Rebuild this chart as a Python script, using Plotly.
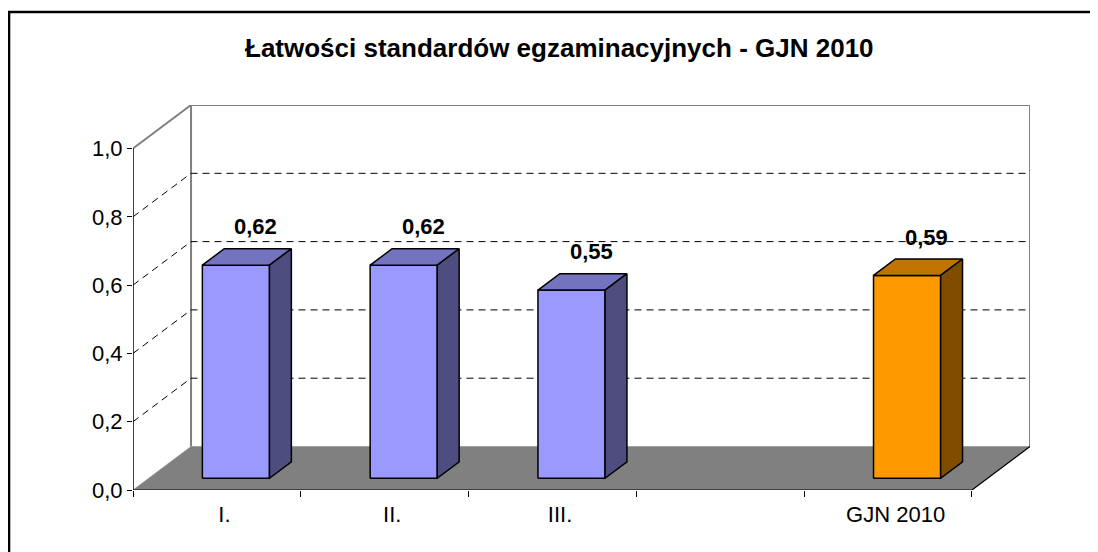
import plotly.graph_objects as go

# ---------------- data ----------------
categories = ["I.", "II.", "III.", "", "GJN 2010"]
values = [0.624, 0.624, 0.551, None, 0.594]
front_colors = ["#9999FF", "#9999FF", "#9999FF", None, "#FF9900"]
top_colors = ["#7373BF", "#7373BF", "#7373BF", None, "#BF7300"]
side_colors = ["#4D4D80", "#4D4D80", "#4D4D80", None, "#804D00"]
y_tick_vals = [0.0, 0.2, 0.4, 0.6, 0.8, 1.0]
y_tick_text = ["0,0", "0,2", "0,4", "0,6", "0,8", "1,0"]
grid_vals = [0.2, 0.4, 0.6, 0.8]
title_text = "Łatwości standardów egzaminacyjnych - GJN 2010"

# ---------------- geometry (oblique 3-D look) ----------------
OFF = 8                     # default page body margin
W, H = 1098 - OFF, 552 - OFF
L, R, T, B = 125, 68, 97, 62
N = len(categories)
DX, DY = 0.3459, 0.1274          # full depth offset in data units
F0, F1 = 0.27, 0.647             # bar depth span (fraction of floor depth)
BAR_C, BAR_W = 0.52, 0.40        # bar centre / width inside a category
FONT = "Liberation Sans, Arial, sans-serif"
GRAY = "#808080"

fig = go.Figure()

def poly(xs, ys, fill=None, color="black", width=1.5, dash=None, close=True):
    if close:
        xs = list(xs) + [xs[0]]
        ys = list(ys) + [ys[0]]
    fig.add_trace(go.Scatter(
        x=xs, y=ys, mode="lines",
        fill="toself" if fill else None,
        fillcolor=fill,
        line=dict(color=color, width=width, dash=dash),
        hoverinfo="skip", showlegend=False))

# back wall outline + left wall top edge
poly([0, DX, N + DX, N + DX], [1, 1 + DY, 1 + DY, DY], color=GRAY, width=2, close=False)
poly([DX, DX], [DY, 1 + DY], color=GRAY, width=2, close=False)

# dashed gridlines on side and back wall
for v in grid_vals:
    poly([0, DX, N + DX], [v, v + DY, v + DY], color="black", width=1,
         dash="7px,5px", close=False)

# floor
poly([0, N, N + DX, DX], [0, 0, DY, DY], fill=GRAY, color=GRAY, width=0.5)
poly([0, N, N + DX], [0, 0, DY], color="black", width=1.2, close=False)

# y axis line
poly([0, 0], [0, 1], color="black", width=1.5, close=False)

# bars
for i, v in enumerate(values):
    if v is None:
        continue
    x0 = i + BAR_C - BAR_W / 2
    x1 = i + BAR_C + BAR_W / 2
    fx, fy = F0 * DX, F0 * DY
    bx, by = F1 * DX, F1 * DY
    # front
    poly([x0 + fx, x1 + fx, x1 + fx, x0 + fx], [fy, fy, v + fy, v + fy],
         fill=front_colors[i])
    # top
    poly([x0 + fx, x1 + fx, x1 + bx, x0 + bx], [v + fy, v + fy, v + by, v + by],
         fill=top_colors[i])
    # side
    poly([x1 + fx, x1 + bx, x1 + bx, x1 + fx], [fy, by, v + by, v + fy],
         fill=side_colors[i])
    # value label
    fig.add_annotation(
        x=i + BAR_C + bx - 0.012, y=v + by, xref="x", yref="y",
        text=f"{v:.2f}".replace(".", ","), showarrow=False,
        yanchor="middle", yshift=22,
        font=dict(family=FONT, size=22, color="black", weight="bold"))

plot_w = W - L - R
plot_h = H - T - B

# title
fig.add_annotation(
    x=(559 - OFF - L) / plot_w, y=(H - B - (48 - OFF)) / plot_h,
    xref="paper", yref="paper",
    text=f"<b>{title_text}</b>", showarrow=False, xanchor="center", yanchor="middle",
    font=dict(family=FONT, size=26, color="black"))

# outer chart border (extends beyond the visible area)
fig.add_shape(type="rect", xref="paper", yref="paper",
              x0=(9 - OFF - L) / plot_w, x1=1.3,
              y0=-0.5, y1=(H - B - (12 - OFF)) / plot_h,
              line=dict(color="black", width=2.6), fillcolor="rgba(0,0,0,0)",
              layer="below")

fig.update_layout(
    width=W, height=H,
    margin=dict(l=L, r=R, t=T, b=B),
    paper_bgcolor="white", plot_bgcolor="white",
    showlegend=False,
    xaxis=dict(
        range=[0, N + DX], showgrid=False, zeroline=False, showline=False,
        tickvals=[i + 0.5 + 0.045 for i in range(N)], ticktext=categories,
        ticks="", ticklabelstandoff=9,
        tickfont=dict(family=FONT, size=22, color="black"),
        minor=dict(tickvals=list(range(N + 1)), ticks="outside", ticklen=6,
                   tickcolor="black", tickwidth=1, showgrid=False),
        fixedrange=True),
    yaxis=dict(
        range=[0, 1 + DY], showgrid=False, zeroline=False, showline=False,
        tickvals=y_tick_vals, ticktext=y_tick_text,
        ticks="outside", ticklen=5, tickcolor="black", tickwidth=1,
        tickfont=dict(family=FONT, size=22, color="black"),
        fixedrange=True),
)

fig.write_html("out.html")
